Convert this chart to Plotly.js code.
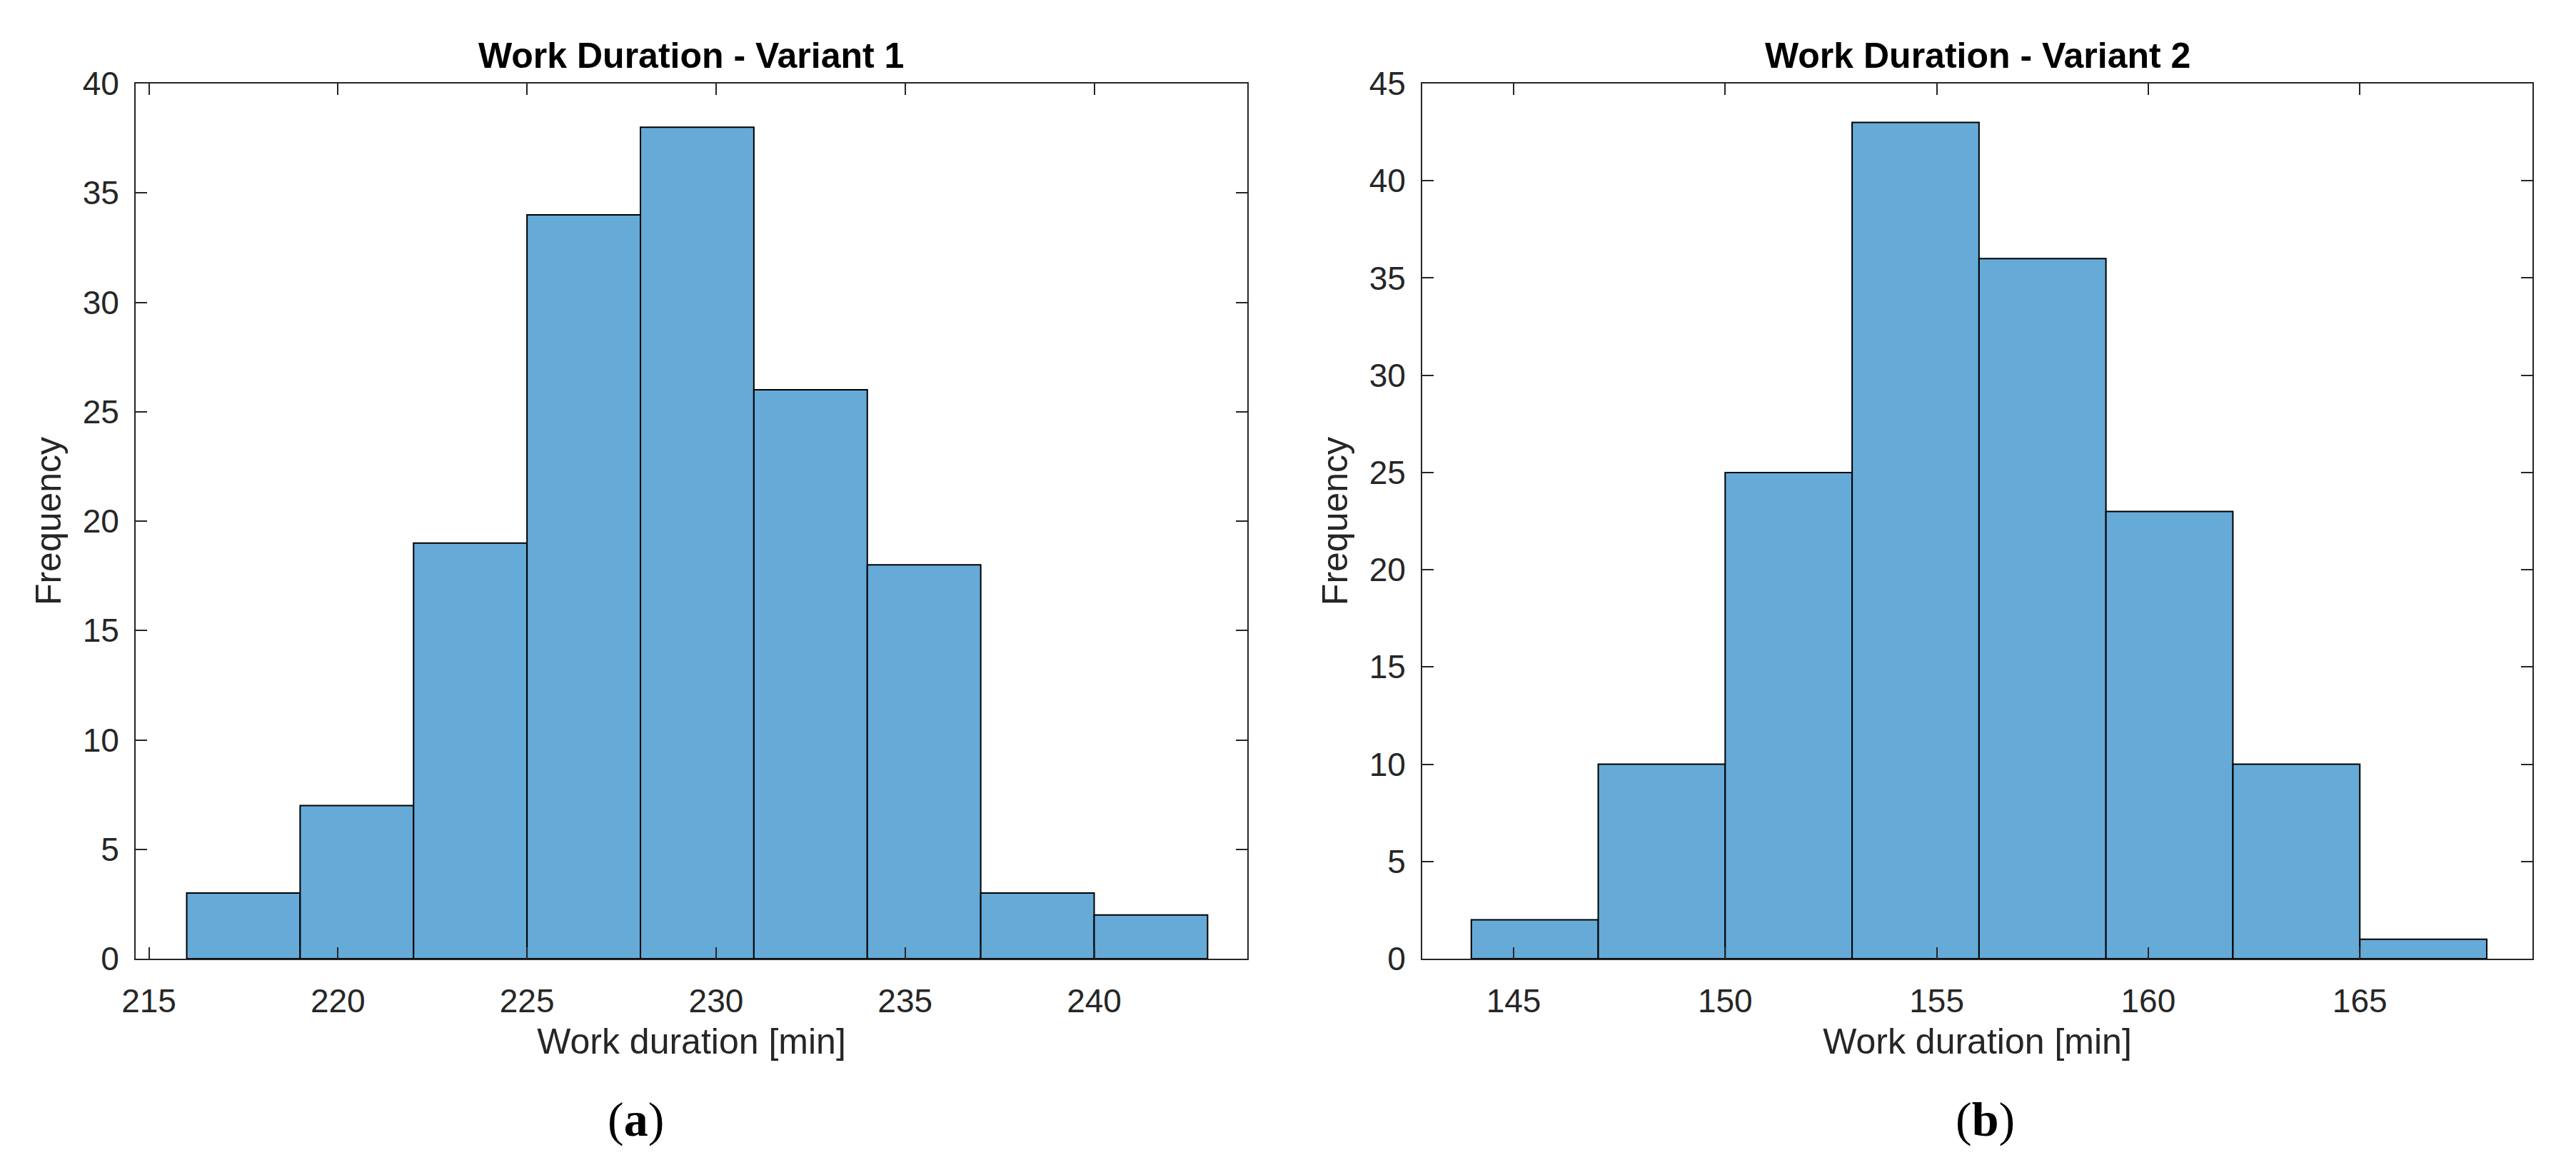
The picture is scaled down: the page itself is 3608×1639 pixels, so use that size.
<!DOCTYPE html>
<html>
<head>
<meta charset="utf-8">
<script src="https://cdn.plot.ly/plotly-3.0.1.min.js"></script>
<style>
html,body{margin:0;padding:0;background:#fff;}
#chart{width:3608px;height:1639px;}
</style>
</head>
<body>
<div id="chart"></div>
<script>
// ---- Data ----
const binWidth = 3;
const binStartsV1 = [216, 219, 222, 225, 228, 231, 234, 237, 240];
const countsV1 = [3, 7, 19, 34, 38, 26, 18, 3, 2];
const binStartsV2 = [144, 147, 150, 153, 156, 159, 162, 165];
const countsV2 = [2, 10, 25, 43, 36, 23, 10, 1];
const titleV1 = "Work Duration - Variant 1";
const titleV2 = "Work Duration - Variant 2";
const xLabel = "Work duration [min]";
const yLabel = "Frequency";
const xTicksV1 = [215, 220, 225, 230, 235, 240];
const xTicksV2 = [145, 150, 155, 160, 165];
const yTicksV1 = [0, 5, 10, 15, 20, 25, 30, 35, 40];
const yTicksV2 = [0, 5, 10, 15, 20, 25, 30, 35, 40, 45];
const panelLabels = ["a", "b"];

// ---- Styles ----
const W = 3608, H = 1639;
const axColor = '#262626';
const fill = '#66AAD7';
const tickFont = {family: 'Liberation Sans, Arial, sans-serif', size: 46, color: axColor};
const labFont = {family: 'Liberation Sans, Arial, sans-serif', size: 50, color: axColor};
const titleFont = {family: 'Liberation Sans, Arial, sans-serif', size: 50, color: '#000', weight: 'bold'};

function centers(starts){ return starts.map(s => s + binWidth/2); }

const traces = [
  {type:'bar', x: centers(binStartsV1), y: countsV1, width: binWidth,
   marker:{color: fill, line:{color:'#000', width:2}}, xaxis:'x', yaxis:'y',
   hoverinfo:'x+y', showlegend:false},
  {type:'bar', x: centers(binStartsV2), y: countsV2, width: binWidth,
   marker:{color: fill, line:{color:'#000', width:2}}, xaxis:'x2', yaxis:'y2',
   hoverinfo:'x+y', showlegend:false}
];

const px = v => v / W;
const py = v => 1 - v / H;

function xax(domain, range, ticks){
  return {domain: domain, range: range, tickvals: ticks, ticktext: ticks.map(String),
    ticks:'inside', ticklen:16, tickwidth:2, tickcolor: axColor,
    showline:true, linecolor: axColor, linewidth:2, mirror:'allticks',
    showgrid:false, zeroline:false, tickfont: tickFont, ticklabelstandoff: 18,
    title:{text: xLabel, font: labFont, standoff: 14}, fixedrange:true};
}
function yax(domain, range, ticks, anchor){
  return {domain: domain, range: range, tickvals: ticks, ticktext: ticks.map(String),
    ticks:'inside', ticklen:16, tickwidth:2, tickcolor: axColor,
    showline:true, linecolor: axColor, linewidth:2, mirror:'allticks',
    showgrid:false, zeroline:false, tickfont: tickFont, ticklabelstandoff: 12,
    anchor: anchor,
    title:{text: yLabel, font: labFont, standoff: 14}, fixedrange:true};
}

const yDom = [py(1343), py(117)];
const labelFont = {family:'Liberation Serif, Times New Roman, serif', size: 68, color:'#000'};
const layout = {
  width: W, height: H,
  margin:{l:0, r:0, t:0, b:0},
  paper_bgcolor:'#fff', plot_bgcolor:'#fff',
  bargap: 0,
  xaxis: Object.assign(xax([px(190), px(1747)], [214.65, 244.05], xTicksV1), {anchor:'y'}),
  yaxis: yax(yDom, [0, 40], yTicksV1, 'x'),
  xaxis2: Object.assign(xax([px(1992), px(3547)], [142.84, 169.08], xTicksV2), {anchor:'y2'}),
  yaxis2: yax(yDom, [0, 45], yTicksV2, 'x2'),
  annotations: [
    {text: titleV1, x: px(968), y: py(78), xref:'paper', yref:'paper', xanchor:'center', yanchor:'middle', showarrow:false, font: titleFont},
    {text: titleV2, x: px(2770), y: py(78), xref:'paper', yref:'paper', xanchor:'center', yanchor:'middle', showarrow:false, font: titleFont},
    {text: '(<b>' + panelLabels[0] + '</b>)', x: px(890), y: py(1568), xref:'paper', yref:'paper', xanchor:'center', yanchor:'middle', showarrow:false, font: labelFont},
    {text: '(<b>' + panelLabels[1] + '</b>)', x: px(2780), y: py(1568), xref:'paper', yref:'paper', xanchor:'center', yanchor:'middle', showarrow:false, font: labelFont}
  ]
};

Plotly.newPlot('chart', traces, layout, {staticPlot:true, displayModeBar:false});
</script>
</body>
</html>
